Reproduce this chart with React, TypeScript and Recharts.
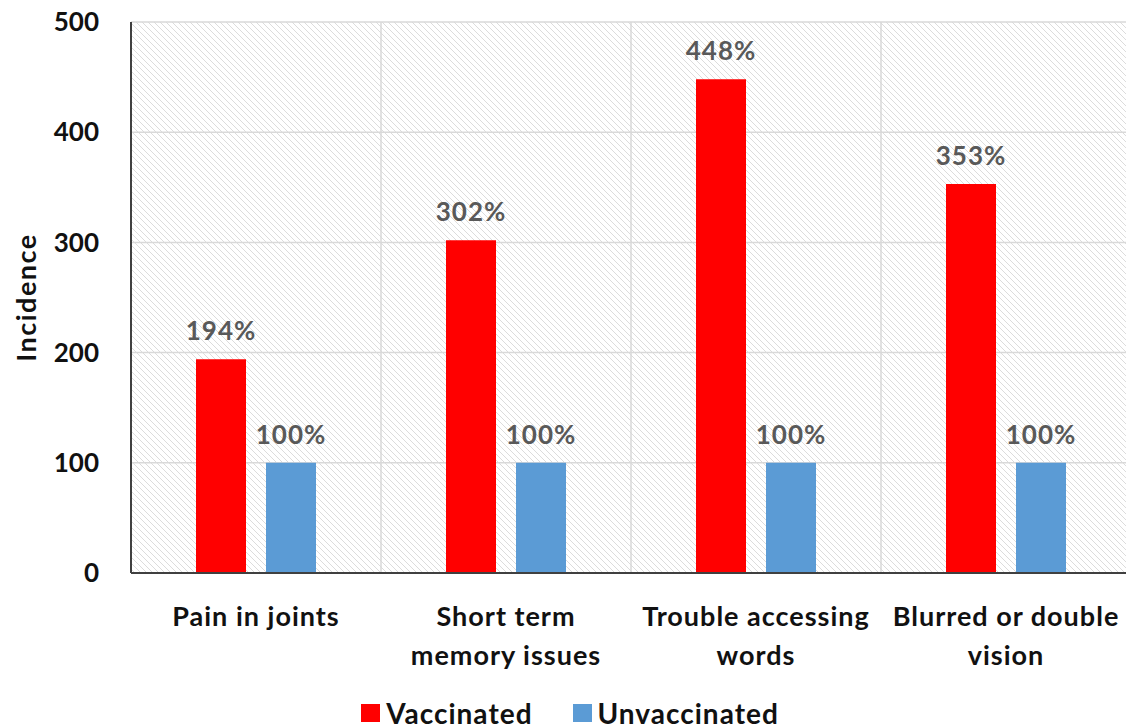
import { Bar, BarChart, CartesianGrid, LabelList, Legend, XAxis, YAxis } from "recharts";

const CATEGORIES = ["Pain in joints", "Short term\nmemory issues", "Trouble accessing\nwords", "Blurred or double\nvision"];
const VACCINATED = [194, 302, 448, 353];
const UNVACCINATED = [100, 100, 100, 100];
const Y_TICKS = [0, 100, 200, 300, 400, 500];
const SERIES_ORDER = ["Vaccinated", "Unvaccinated"];

const data = CATEGORIES.map((name, i) => ({
  name,
  vaccinated: VACCINATED[i],
  unvaccinated: UNVACCINATED[i],
}));

const FONT = "Lato, 'Open Sans', sans-serif";

function CategoryTick({ x, y, payload }: any) {
  const lines = String(payload.value).split("\n");
  return (
    <text x={x} y={y} textAnchor="middle" fontFamily={FONT} fontWeight={700} fontSize={27} letterSpacing={1} fill="#111">
      {lines.map((l, i) => (
        <tspan key={i} x={x} dy={i === 0 ? 51 : 39}>
          {l}
        </tspan>
      ))}
    </text>
  );
}

function YLabel({ viewBox }: any) {
  const cx = viewBox.x + 25;
  const cy = viewBox.y + viewBox.height / 2;
  return (
    <text
      x={cx}
      y={cy}
      transform={`rotate(-90 ${cx} ${cy})`}
      textAnchor="middle"
      dominantBaseline="central"
      fontFamily={FONT}
      fontWeight={700}
      fontSize={27}
      letterSpacing={1.5}
      fill="#111"
    >
      Incidence
    </text>
  );
}

function LegendContent({ payload }: any) {
  const items = [...(payload || [])].sort(
    (a: any, b: any) => SERIES_ORDER.indexOf(a.value) - SERIES_ORDER.indexOf(b.value)
  );
  return (
    <div style={{ display: "flex", justifyContent: "center", alignItems: "center", height: 40, paddingTop: 9, paddingLeft: 54, boxSizing: "border-box" }}>
      {items.map((p: any) => (
        <span key={p.value} style={{ display: "inline-flex", alignItems: "center", marginRight: 40, fontFamily: FONT, fontWeight: 700, fontSize: 28, letterSpacing: 1, color: "#111" }}>
          <span style={{ width: 19, height: 18, background: p.color, marginRight: 6, display: "inline-block" }} />
          {p.value}
        </span>
      ))}
    </div>
  );
}

export default function App() {
  return (
    <div style={{ position: "absolute", left: 0, top: 0, width: 1126, height: 728, overflow: "hidden", background: "#fff" }}>
      <svg width={0} height={0} style={{ position: "absolute" }}>
        <defs>
          <pattern id="hatch" patternUnits="userSpaceOnUse" width={6} height={6}>
            <rect width={6} height={6} fill="#fff" />
            <path d="M-1,-1 L7,7 M-1,5 L1,7 M5,-1 L7,1" stroke="#dcdcdc" strokeWidth={1} />
          </pattern>
        </defs>
      </svg>
      <BarChart
        width={1140}
        height={728}
        data={data}
        margin={{ top: 22, right: 9, left: 0, bottom: 0 }}
        barSize={50}
        barGap={20}
      >
        <CartesianGrid
          fill="url(#hatch)"
          stroke="#d9d9d9"
          strokeWidth={1.5}
          verticalCoordinatesGenerator={({ offset }: any) =>
            CATEGORIES.map((_, i) => offset.left + (i * offset.width) / CATEGORIES.length).slice(1)
          }
        />
        <XAxis
          dataKey="name"
          interval={0}
          tickLine={false}
          tickSize={0}
          tick={<CategoryTick />}
          height={115}
          axisLine={{ stroke: "#404040", strokeWidth: 2 }}
        />
        <YAxis
          domain={[0, 500]}
          ticks={Y_TICKS}
          width={131}
          tickLine={false}
          tickSize={0}
          tickMargin={32}
          axisLine={{ stroke: "#404040", strokeWidth: 2 }}
          tick={{ fontFamily: FONT, fontWeight: 700, fontSize: 26, fill: "#111" }}
          label={<YLabel />}
        />
        <Legend verticalAlign="bottom" content={<LegendContent />} wrapperStyle={{ left: 0, width: 1126, height: 40 }} />
        <Bar dataKey="vaccinated" name="Vaccinated" fill="#ff0000" isAnimationActive={false}>
          <LabelList
            dataKey="vaccinated"
            position="top"
            offset={19}
            formatter={(v: any) => `${v}%`}
            style={{ fontFamily: FONT, fontWeight: 700, fontSize: 26, letterSpacing: 1, fill: "#595959" }}
          />
        </Bar>
        <Bar dataKey="unvaccinated" name="Unvaccinated" fill="#5b9bd5" isAnimationActive={false}>
          <LabelList
            dataKey="unvaccinated"
            position="top"
            offset={19}
            formatter={(v: any) => `${v}%`}
            style={{ fontFamily: FONT, fontWeight: 700, fontSize: 26, letterSpacing: 1, fill: "#595959" }}
          />
        </Bar>
      </BarChart>
    </div>
  );
}
